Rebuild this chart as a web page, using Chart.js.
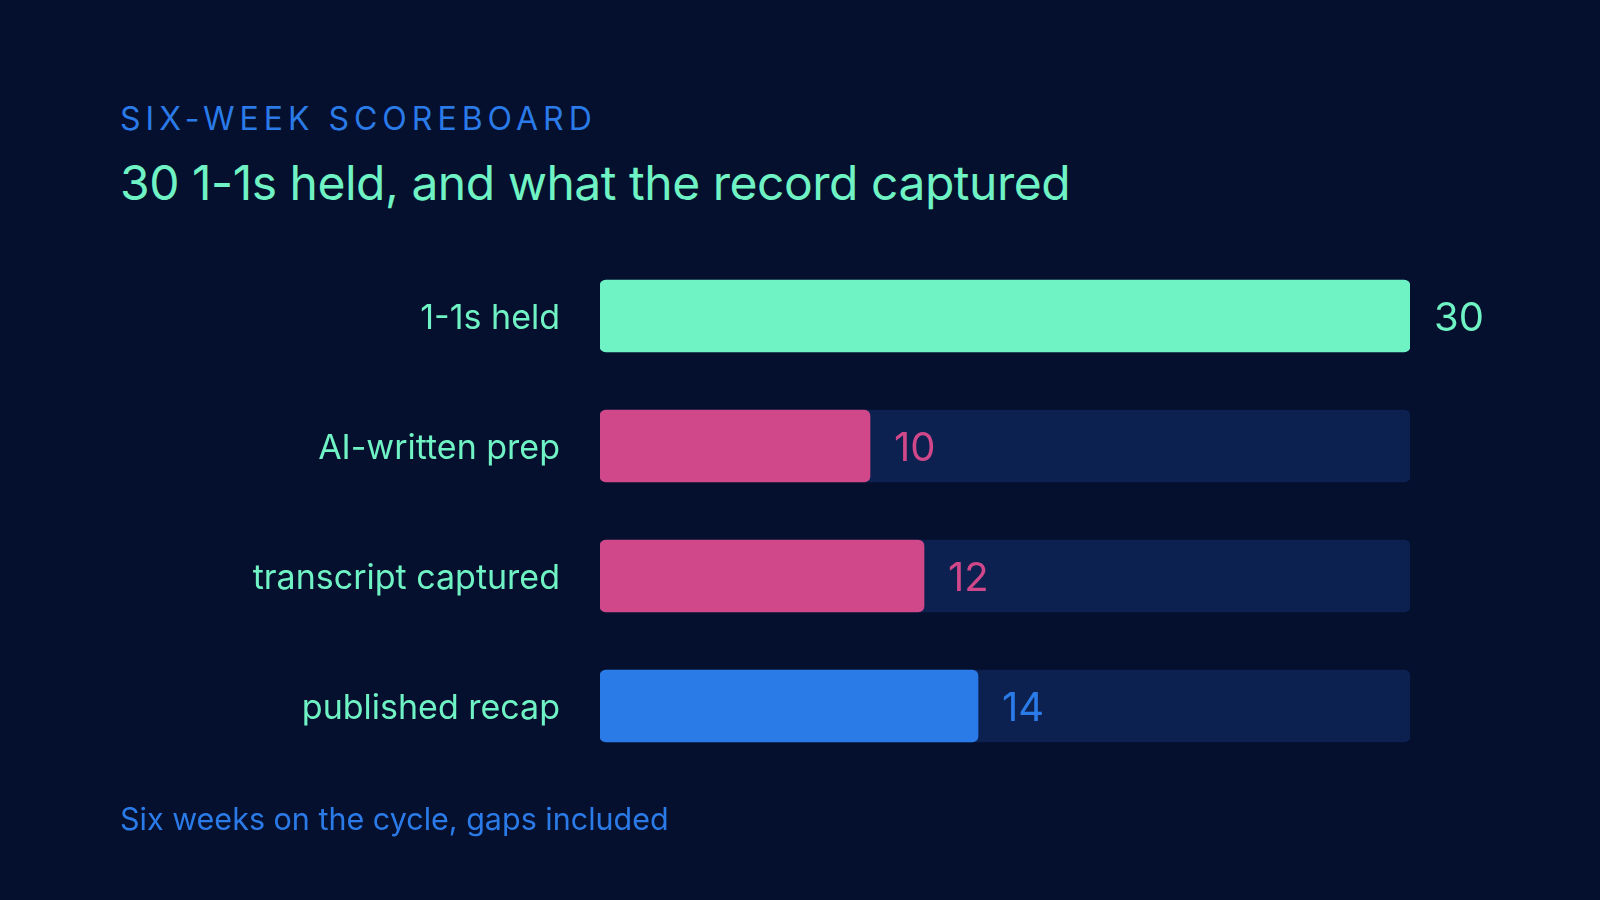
<!DOCTYPE html>
<html>
<head>
<meta charset="utf-8">
<script src="https://cdn.jsdelivr.net/npm/chart.js@4.4.1/dist/chart.umd.min.js"></script>
<style>
  html, body { margin:0; padding:0; background:#050f2e; width:1600px; height:900px; overflow:hidden; }
  body { position:relative; font-family: Inter, "Noto Sans", sans-serif; }
  .t { position:absolute; left:120px; line-height:1; white-space:nowrap; }
  #kicker { top:103px; font-size:32px; letter-spacing:5px; color:#2a7be8; }
  #title { top:159px; font-size:48px; color:#6ff3c4; letter-spacing:-0.01em; }
  #note { top:804px; font-size:30.5px; color:#2a7be8; }
  #wrap { position:absolute; left:0; top:0; width:1600px; height:900px; }
</style>
</head>
<body>
<div class="t" id="kicker">SIX-WEEK SCOREBOARD</div>
<div class="t" id="title">30 1-1s held, and what the record captured</div>
<div id="wrap"><canvas id="c"></canvas></div>
<div class="t" id="note">Six weeks on the cycle, gaps included</div>
<script>
const categories = ["1-1s held", "AI-written prep", "transcript captured", "published recap"];
const values = [30, 10, 12, 14];
const trackValues = [30, 30, 30, 30];
const barColors = ["#6ff3c4", "#d0488a", "#d0488a", "#2a7be8"];
const trackColor = "#0c2150";
const axisMax = 30;

const valueLabels = {
  id: 'valueLabels',
  afterDatasetsDraw(chart) {
    const ctx = chart.ctx;
    const meta = chart.getDatasetMeta(1);
    ctx.save();
    ctx.font = '400 40px Inter, "Noto Sans", sans-serif';
    ctx.textAlign = 'left';
    ctx.textBaseline = 'middle';
    meta.data.forEach((bar, i) => {
      ctx.fillStyle = barColors[i];
      ctx.fillText(String(values[i]), bar.x + 24, bar.y + 3);
    });
    ctx.restore();
  }
};

new Chart(document.getElementById('c'), {
  type: 'bar',
  data: {
    labels: categories,
    datasets: [
      { data: trackValues, backgroundColor: trackColor, grouped: false, order: 2,
        barThickness: 72, borderRadius: 6, borderSkipped: false },
      { data: values, backgroundColor: barColors, grouped: false, order: 1,
        barThickness: 72, borderRadius: 6, borderSkipped: false }
    ]
  },
  options: {
    indexAxis: 'y',
    responsive: true,
    maintainAspectRatio: false,
    animation: false,
    layout: { padding: { left: 0, right: 190, top: 251, bottom: 129 } },
    plugins: { legend: { display: false }, tooltip: { enabled: false } },
    scales: {
      x: { display: false, min: 0, max: axisMax },
      y: {
        grid: { display: false, drawTicks: false },
        border: { display: false },
        ticks: { color: '#6ff3c4', padding: 40, labelOffset: 3, font: { family: 'Inter', size: 34, weight: '400' } },
        afterFit(scale) { scale.width = 600; }
      }
    }
  },
  plugins: [valueLabels]
});
</script>
</body>
</html>
